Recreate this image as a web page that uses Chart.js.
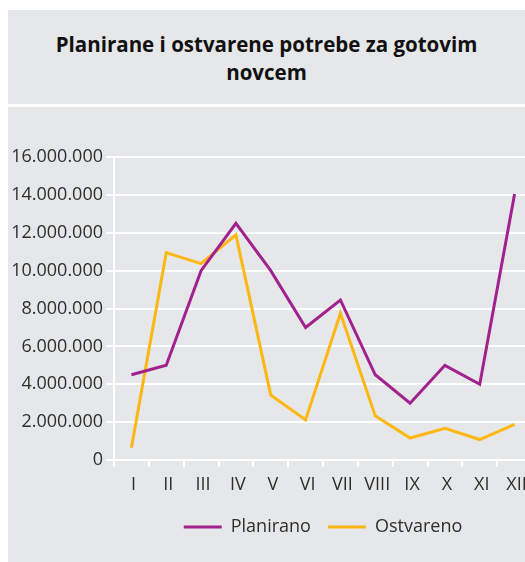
<!DOCTYPE html>
<html>
<head>
<meta charset="utf-8">
<script src="https://cdn.jsdelivr.net/npm/chart.js@4/dist/chart.umd.min.js"></script>
<style>
  html, body { margin: 0; padding: 0; background: #fff; width: 525px; height: 562px; overflow: hidden; position: relative; }
  .panel { position: absolute; left: 8px; width: 517px; background: #e6e7e8; }
  #head { top: 10px; height: 94px; }
  #body { top: 107px; height: 455px; }
  #title { position: absolute; left: 8px; top: 10px; width: 517px; height: 94px;
           font-family: "Open Sans", sans-serif; font-weight: bold; font-size: 20.5px; line-height: 28px;
           color: #111; text-align: center; box-sizing: border-box; padding-top: 20px; }
  #chart { position: absolute; left: 0; top: 107px; }
</style>
</head>
<body>
<div class="panel" id="head"></div>
<div class="panel" id="body"></div>
<div id="title">Planirane i ostvarene potrebe za gotovim<br>novcem</div>
<canvas id="chart" width="545" height="455"></canvas>
<script>
// Months (Roman numerals)
const months = ['I', 'II', 'III', 'IV', 'V', 'VI', 'VII', 'VIII', 'IX', 'X', 'XI', 'XII'];
// Planned cash needs
const planirano = [4500000, 5000000, 10000000, 12500000, 10000000, 7000000, 8450000, 4500000, 3000000, 5000000, 4000000, 14050000];
// Realised cash needs
const ostvareno = [650000, 10950000, 10370000, 11890000, 3430000, 2120000, 7750000, 2330000, 1160000, 1670000, 1080000, 1880000];
// Y axis range and step
const yMin = 0, yMax = 16000000, yStep = 2000000;

const seriesNames = ['Planirano', 'Ostvareno'];
const PURPLE = '#a1228e';
const YELLOW = '#fdb714';
const TEXT = '#2e2e2e';
const FONT = '"Open Sans", sans-serif';

function thousands(v) {
  return String(Math.round(v)).replace(/\B(?=(\d{3})+(?!\d))/g, '.');
}

new Chart(document.getElementById('chart'), {
  type: 'line',
  data: {
    labels: months,
    datasets: [
      { label: seriesNames[0], data: planirano, borderColor: PURPLE, backgroundColor: PURPLE,
        borderWidth: 3, pointRadius: 0, tension: 0 },
      { label: seriesNames[1], data: ostvareno, borderColor: YELLOW, backgroundColor: YELLOW,
        borderWidth: 3, pointRadius: 0, tension: 0 }
    ]
  },
  options: {
    responsive: false,
    animation: false,
    layout: { padding: { top: 50, right: 13, bottom: 16, left: 0 } },
    plugins: {
      title: { display: false },
      tooltip: { enabled: false },
      legend: {
        position: 'bottom',
        fullSize: false,
        labels: {
          usePointStyle: true,
          pointStyle: 'line',
          pointStyleWidth: 38,
          padding: 17,
          color: TEXT,
          font: { family: FONT, size: 18 }
        }
      }
    },
    scales: {
      x: {
        offset: true,
        grid: { offset: true, drawOnChartArea: false, drawTicks: true, tickLength: 7, color: '#ffffff', lineWidth: 2 },
        border: { display: true, color: '#ffffff', width: 2 },
        ticks: { color: TEXT, padding: 7, labelOffset: 2, maxRotation: 0, autoSkip: false, font: { family: FONT, size: 18 } },
        afterFit: (s) => { s.height = 41; }
      },
      y: {
        min: yMin, max: yMax,
        grid: { color: '#ffffff', lineWidth: 2, tickLength: 8 },
        border: { display: true, color: '#ffffff', width: 2 },
        ticks: { stepSize: yStep, color: TEXT, padding: 3, font: { family: FONT, size: 18 },
                 callback: (v) => thousands(v) },
        afterFit: (s) => { s.width = 114; }
      }
    }
  }
});
</script>
</body>
</html>
